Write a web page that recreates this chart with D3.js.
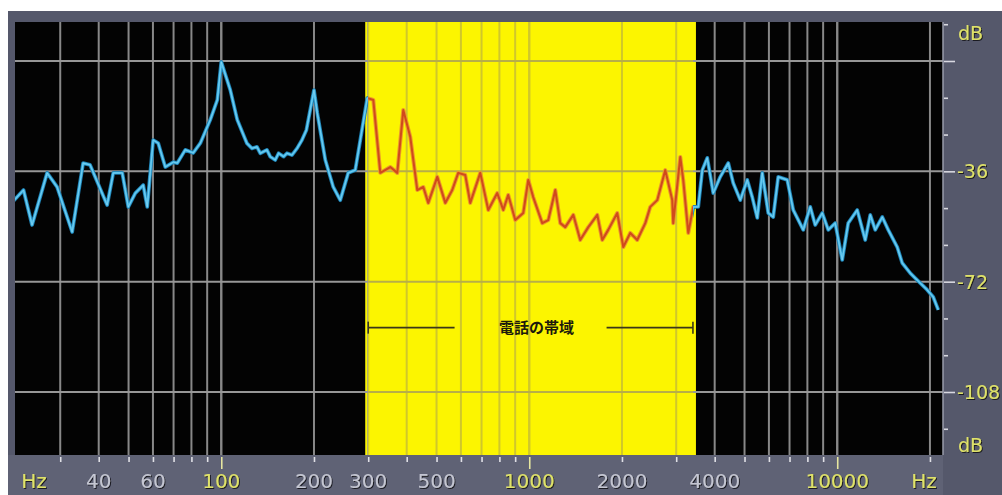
<!DOCTYPE html>
<html>
<head>
<meta charset="utf-8">
<script src="https://cdn.jsdelivr.net/npm/d3@7"></script>
<style>
  html, body { margin: 0; padding: 0; background: #fff; overflow: hidden; }
</style>
</head>
<body>
<div id="chart"></div>
<script>
// spectrum: frequency (Hz) / level (dB)
const freqHz = [
  21, 22.8, 24.3, 27.2, 29.3, 32.8, 35.6, 37.5, 42.6, 44.6, 47.7, 49.9, 52.6, 55.8, 57.5,
  60.1, 62.4, 65.8, 69.9, 72, 76.4, 81.1, 85.5, 92.1, 97.1, 100, 107, 112.7,
  121.2, 125.8, 130.6, 133.9, 140.7, 144.2, 149.7, 153.5, 159.4, 163.4, 169.6, 176.2, 182.8, 189,
  200, 205, 217.7, 231, 243.4, 258.4, 272.3, 282.7, 297.9,
  311.6, 328.4, 353.8, 372.8, 389.9, 410.9, 433, 452.8, 470, 502.8, 533.8, 562.3, 588.1,
  619.7, 643.3, 693.4, 736, 787.1, 823.3, 854.7, 900.7, 956.2, 992.7, 1030, 1102, 1153,
  1215, 1261, 1309, 1390, 1464, 1555, 1663, 1726, 1805, 1931, 2020, 2128, 2242, 2381,
  2471, 2604, 2765, 2913, 2934, 3093, 3162, 3284, 3408,
  3538, 3646, 3784, 3958, 4171, 4428, 4595, 4843, 5104, 5297, 5500, 5708, 5970, 6197,
  6432, 6882, 7197, 7757, 8175, 8483, 8941, 9351, 9851, 10380, 10855, 11612, 12330, 12800,
  13288, 14004, 14643, 15660, 16256, 17258, 18190, 19600, 20500, 21280
];
const levelDb = [
  -46.0, -42.1, -53.5, -36.5, -41.1, -55.8, -33.3, -33.9, -47.0, -36.5, -36.5, -47.6, -43.1, -40.5, -47.6,
  -25.8, -26.8, -34.6, -33.0, -33.3, -29.0, -30.0, -26.8, -19.2, -12.7, -0.3, -9.5, -19.2,
  -26.9, -28.5, -28.0, -30.1, -29.0, -31.2, -32.3, -30.1, -31.2, -30.1, -30.7, -28.5, -25.8, -22.5,
  -9.5, -17.0, -32.3, -41.1, -45.4, -36.5, -35.6, -25.8, -12.1,
  -12.7, -36.5, -34.6, -36.5, -16.0, -24.8, -42.1, -41.1, -46.3, -37.8, -46.3, -42.1, -36.5,
  -37.2, -46.3, -36.5, -48.6, -43.1, -48.6, -43.7, -51.9, -49.6, -38.8, -44.4, -52.9, -51.9,
  -42.1, -52.9, -54.2, -50.2, -58.4, -54.2, -50.2, -58.4, -55.1, -49.6, -60.7, -56.1, -58.4, -52.9,
  -47.6, -45.4, -35.6, -45.4, -52.9, -31.3, -38.8, -56.1, -47.6,
  -47.6, -35.6, -31.6, -43.1, -37.8, -33.3, -39.8, -45.4, -38.8, -44.4, -51.2, -36.5, -49.6, -50.9,
  -37.8, -38.8, -48.6, -55.1, -47.6, -53.5, -49.6, -55.1, -52.9, -64.9, -52.9, -48.6, -58.4, -50.2,
  -55.1, -50.9, -55.1, -60.7, -65.9, -69.2, -71.5, -74.7, -77.0, -81.2
];

const gridFreqs = [30, 40, 50, 60, 70, 80, 90, 100, 200, 300, 400, 500, 600, 700, 800, 900,
  1000, 2000, 3000, 4000, 5000, 6000, 7000, 8000, 9000, 10000, 20000];
const majorFreqs = [100, 1000, 10000];
const xLabelFreqs = [40, 60, 100, 200, 300, 500, 1000, 2000, 4000, 10000];
const dbGrid = [0, -36, -72, -108];
const dbTicks = [12, 0, -12, -24, -36, -48, -60, -72, -84, -96, -108, -120];
const dbLabels = [-36, -72, -108];
const phoneBand = [300, 3400];
const bandLabel = '電話の帯域';
const bandLabelDb = -87;

function createChart(element) {
  const width = 1002;
  const height = 495;
  const plot = { left: 15, right: 943, top: 22, bottom: 455 };

  const xScale = d3.scaleLog().domain([20, 22050]).range([6, 943]);
  const yScale = d3.scaleLinear().domain([0, -108]).range([61, 392]);

  const svg = d3.select(element).append('svg')
    .attr('width', width)
    .attr('height', height)
    .style('display', 'block');

  const defs = svg.append('defs');
  const shadow = defs.append('filter').attr('id', 'emboss')
    .attr('x', '-20%').attr('y', '-20%').attr('width', '140%').attr('height', '140%');
  shadow.append('feDropShadow')
    .attr('dx', 1).attr('dy', 1).attr('stdDeviation', 0.6)
    .attr('flood-color', '#15161c').attr('flood-opacity', 0.95);

  const bx0 = xScale(phoneBand[0]);
  const bx1 = xScale(phoneBand[1]);
  const plotH = plot.bottom - plot.top;

  defs.append('clipPath').attr('id', 'bandClip')
    .append('rect')
    .attr('x', bx0).attr('y', plot.top)
    .attr('width', bx1 - bx0).attr('height', plotH);
  const outside = defs.append('clipPath').attr('id', 'outsideClip');
  outside.append('rect')
    .attr('x', plot.left).attr('y', plot.top)
    .attr('width', bx0 - plot.left).attr('height', plotH);
  outside.append('rect')
    .attr('x', bx1).attr('y', plot.top)
    .attr('width', plot.right - bx1).attr('height', plotH);

  // frame + panels
  svg.append('rect')
    .attr('x', 8).attr('y', 11).attr('width', width - 8).attr('height', height - 11)
    .attr('fill', '#55586b');
  svg.append('rect')
    .attr('x', 8).attr('y', plot.bottom).attr('width', plot.right - 8).attr('height', height - plot.bottom)
    .attr('fill', '#5f6275');
  svg.append('rect')
    .attr('x', plot.left).attr('y', plot.top)
    .attr('width', plot.right - plot.left).attr('height', plotH)
    .attr('fill', '#030303');

  // phone band
  svg.append('rect')
    .attr('x', bx0 - 3).attr('y', plot.top)
    .attr('width', bx1 - bx0 + 6).attr('height', plotH)
    .attr('fill', '#fcf500');

  // grid, outside and inside the band
  const gridOut = svg.append('g').attr('clip-path', 'url(#outsideClip)');
  const gridIn = svg.append('g').attr('clip-path', 'url(#bandClip)');

  [[gridOut, '#979797', '#979797'], [gridIn, '#cbc230', '#b7ae48']].forEach(([g, vCol, hCol]) => {
    g.selectAll('line.v')
      .data(gridFreqs)
      .enter()
      .append('line')
      .attr('class', 'v')
      .attr('x1', d => xScale(d)).attr('x2', d => xScale(d))
      .attr('y1', plot.top).attr('y2', plot.bottom)
      .attr('stroke', vCol)
      .attr('stroke-width', d => (majorFreqs.includes(d) ? 2.4 : 2))
      .attr('opacity', 0.9);
    g.selectAll('line.h')
      .data(dbGrid)
      .enter()
      .append('line')
      .attr('class', 'h')
      .attr('x1', plot.left).attr('x2', plot.right)
      .attr('y1', d => yScale(d)).attr('y2', d => yScale(d))
      .attr('stroke', hCol)
      .attr('stroke-width', 2);
  });

  // band annotation
  const ay = yScale(bandLabelDb);
  const ax0 = xScale(phoneBand[0]);
  const ax1 = xScale(phoneBand[1]);
  const axMid = xScale(Math.sqrt(phoneBand[0] * phoneBand[1]));
  const annot = svg.append('g').attr('stroke', '#3a3718').attr('stroke-width', 1.6);
  annot.append('line').attr('x1', ax0).attr('x2', axMid - 76).attr('y1', ay).attr('y2', ay);
  annot.append('line').attr('x1', axMid + 76).attr('x2', ax1).attr('y1', ay).attr('y2', ay);
  annot.append('line').attr('x1', ax0).attr('x2', ax0).attr('y1', ay - 6).attr('y2', ay + 6);
  annot.append('line').attr('x1', ax1).attr('x2', ax1).attr('y1', ay - 6).attr('y2', ay + 6);
  svg.append('text')
    .attr('x', axMid + 6).attr('y', ay + 5)
    .attr('text-anchor', 'middle')
    .attr('font-family', '"Noto Sans CJK JP", sans-serif')
    .attr('font-size', 15)
    .attr('font-weight', 700)
    .attr('fill', '#1c1a0c')
    .text(bandLabel);

  // spectrum
  const points = freqHz.map((f, i) => ({ f, db: levelDb[i] }));
  const line = d3.line().x(d => xScale(d.f)).y(d => yScale(d.db));

  const blue = svg.append('g').attr('clip-path', 'url(#outsideClip)').attr('fill', 'none');
  blue.append('path').datum(points).attr('d', line)
    .attr('stroke', '#1d78a8').attr('stroke-width', 3.8).attr('stroke-linejoin', 'round');
  blue.append('path').datum(points).attr('d', line)
    .attr('stroke', '#45b9e8').attr('stroke-width', 2.3).attr('stroke-linejoin', 'round');
  blue.append('path').datum(points).attr('d', line)
    .attr('stroke', '#a8e4f8').attr('stroke-width', 0.8).attr('opacity', 0.6);

  const red = svg.append('g').attr('clip-path', 'url(#bandClip)').attr('fill', 'none');
  red.append('path').datum(points).attr('d', line)
    .attr('stroke', '#eb9a2a').attr('stroke-width', 4).attr('stroke-linejoin', 'round');
  red.append('path').datum(points).attr('d', line)
    .attr('stroke', '#d04a1c').attr('stroke-width', 2).attr('stroke-linejoin', 'round');

  // right axis
  svg.append('line')
    .attr('x1', plot.right).attr('x2', plot.right)
    .attr('y1', plot.top).attr('y2', plot.bottom)
    .attr('stroke', '#9a9cab').attr('stroke-width', 1.5);

  const yAxis = svg.append('g')
    .attr('transform', `translate(${plot.right + 1},0)`)
    .call(d3.axisRight(yScale)
      .tickValues(dbTicks)
      .tickSize(4)
      .tickFormat(''));
  yAxis.select('.domain').remove();
  yAxis.selectAll('.tick line')
    .attr('stroke', '#d8d8e0')
    .attr('stroke-width', 1.6)
    .attr('x2', d => (dbGrid.includes(d) ? 11 : 4));

  const labelStyle = sel => sel
    .attr('font-family', '"DejaVu Sans", sans-serif')
    .attr('filter', 'url(#emboss)');

  svg.append('g').selectAll('text')
    .data(dbLabels)
    .enter()
    .append('text')
    .call(labelStyle)
    .attr('x', 957)
    .attr('y', d => yScale(d) + 7)
    .attr('font-size', 19)
    .attr('fill', '#dfe26a')
    .text(d => d);

  svg.append('g').selectAll('text')
    .data([{ t: 'dB', y: 40 }, { t: 'dB', y: 452 }])
    .enter()
    .append('text')
    .call(labelStyle)
    .attr('x', 958)
    .attr('y', d => d.y)
    .attr('font-size', 19)
    .attr('fill', '#dfe26a')
    .text(d => d.t);

  // bottom axis
  const xAxis = svg.append('g')
    .attr('transform', `translate(0,${plot.bottom + 2})`)
    .call(d3.axisBottom(xScale)
      .tickValues(gridFreqs)
      .tickSize(5)
      .tickFormat(''));
  xAxis.select('.domain').remove();
  xAxis.selectAll('.tick line')
    .attr('stroke', d => (majorFreqs.includes(d) ? '#e6e6a0' : '#e0e0e6'))
    .attr('stroke-width', 1.6)
    .attr('y2', d => (majorFreqs.includes(d) ? 12 : 5));

  svg.append('g').selectAll('text')
    .data(xLabelFreqs)
    .enter()
    .append('text')
    .call(labelStyle)
    .attr('x', d => xScale(d))
    .attr('y', 488)
    .attr('text-anchor', 'middle')
    .attr('font-size', 20)
    .attr('fill', d => (majorFreqs.includes(d) ? '#dfe26a' : '#c4c6d2'))
    .text(d => d);

  svg.append('g').selectAll('text')
    .data([34, 924])
    .enter()
    .append('text')
    .call(labelStyle)
    .attr('x', d => d)
    .attr('y', 488)
    .attr('text-anchor', 'middle')
    .attr('font-size', 20)
    .attr('fill', '#dfe26a')
    .text('Hz');
}

createChart(document.getElementById('chart'));
</script>
</body>
</html>
